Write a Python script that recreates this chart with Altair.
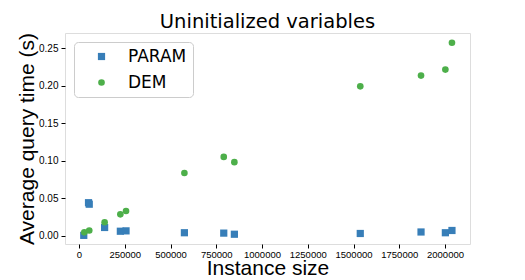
import altair as alt
import pandas as pd

series = ["PARAM", "DEM"]

param_x = [26000, 52000, 56000, 140000, 226000, 257000, 576000, 791000, 849000, 1537000, 1869000, 2002000, 2038000]
param_y = [0.0005, 0.044, 0.042, 0.011, 0.006, 0.0065, 0.004, 0.0035, 0.002, 0.003, 0.005, 0.004, 0.007]

dem_x = [29000, 56000, 140000, 226000, 257000, 576000, 791000, 849000, 1537000, 1869000, 2002000, 2038000]
dem_y = [0.0045, 0.007, 0.018, 0.0285, 0.033, 0.0835, 0.105, 0.098, 0.199, 0.2133, 0.2213, 0.257]

x_ticks = [0, 250000, 500000, 750000, 1000000, 1250000, 1500000, 1750000, 2000000]
y_ticks = [0.0, 0.05, 0.10, 0.15, 0.20, 0.25]

df = pd.concat([
    pd.DataFrame({"size": param_x, "time": param_y, "method": "PARAM"}),
    pd.DataFrame({"size": dem_x, "time": dem_y, "method": "DEM"}),
], ignore_index=True)
df["order"] = range(len(df))

font = "DejaVu Sans"

chart = alt.Chart(df).mark_point(filled=True, opacity=1).encode(
    x=alt.X("size:Q", title="Instance size",
            scale=alt.Scale(domain=[-76500, 2136600], nice=False, zero=False),
            axis=alt.Axis(values=x_ticks, format="d", grid=False, labelFontSize=9.5,
                          titleFontSize=21, titleFontWeight="normal", labelColor="black",
                          tickColor="black", tickSize=4, domain=False, labelPadding=1,
                          titlePadding=-1, labelFlush=False, titleColor="black",
                          labelOverlap=False)),
    y=alt.Y("time:Q", title="Average query time (s)",
            scale=alt.Scale(domain=[-0.011, 0.27], nice=False, zero=False),
            axis=alt.Axis(values=y_ticks, format=".2f", grid=False, labelFontSize=10,
                          titleFontSize=21, titleFontWeight="normal", labelColor="black",
                          tickColor="black", tickSize=4, domain=False, labelPadding=3,
                          titlePadding=1, titleColor="black")),
    color=alt.Color("method:N", scale=alt.Scale(domain=series, range=["#377eb8", "#4daf4a"]),
                    legend=alt.Legend(title=None, orient="none", legendX=9, legendY=9,
                                      labelFontSize=17, labelFont=font, symbolSize=55,
                                      rowPadding=8, padding=6, labelOffset=18,
                                      symbolOffset=13, labelColor="black",
                                      strokeColor="#cccccc", fillColor="white",
                                      cornerRadius=4, symbolOpacity=1)),
    shape=alt.Shape("method:N", scale=alt.Scale(domain=series, range=["square", "circle"])),
    size=alt.Size("method:N", scale=alt.Scale(domain=series, range=[52, 44]), legend=None),
    order=alt.Order("order:Q"),
).properties(
    width=405, height=211,
    title=alt.Title("Uninitialized variables", fontSize=19.5, fontWeight="normal", font=font,
                    offset=0, color="black"),
    autosize=alt.AutoSizeParams(type="none"),
    padding={"left": 57, "top": 25, "right": 47, "bottom": 40},
).configure_view(
    stroke="#808080", strokeWidth=1
).configure_axis(
    labelFont=font, titleFont=font
).configure(background="white")

chart.save("out.html", embed_options={"renderer": "svg", "actions": False})
